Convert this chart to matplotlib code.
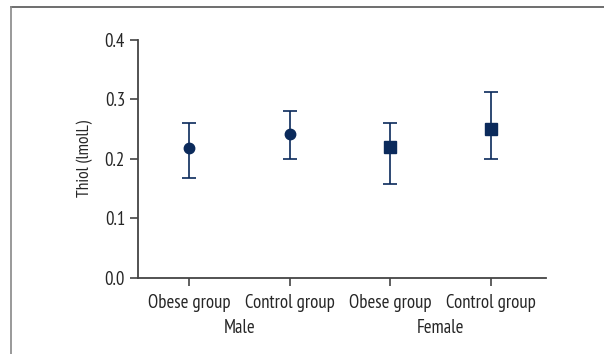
import matplotlib
matplotlib.use("Agg")
import matplotlib.pyplot as plt
from matplotlib.lines import Line2D
import numpy as np

plt.rcParams['font.family'] = ['PT Sans Narrow', 'DejaVu Sans']

groups = ["Obese group", "Control group", "Obese group", "Control group"]
sexes = ["Male", "Female"]
means = [0.218, 0.242, 0.220, 0.250]
upper = [0.261, 0.281, 0.260, 0.312]
lower = [0.168, 0.199, 0.158, 0.199]
markers = ["o", "o", "s", "s"]
yticks = [0.0, 0.1, 0.2, 0.3, 0.4]

navy = "#0b2a5b"
axis_col = "#444444"
text_col = "#262626"

fig = plt.figure(figsize=(6.04, 3.54), dpi=100)
ax = fig.add_axes([137.5 / 604, 1 - 277.7 / 354, (545.6 - 137.5) / 604, (277.7 - 40) / 354])

x = np.arange(len(means))
for i in range(len(means)):
    ax.errorbar(x[i], means[i],
                yerr=[[means[i] - lower[i]], [upper[i] - means[i]]],
                fmt=markers[i], color=navy, ms=7.5 if markers[i] == "o" else 8,
                elinewidth=1.2, capsize=5, capthick=1.2)

ax.set_xlim(-0.51, 3.54)
ax.set_ylim(0, 0.4)
ax.set_yticks(yticks)
ax.set_yticklabels(["%.1f" % v for v in yticks])
ax.set_xticks(x)
ax.set_xticklabels(groups)
ax.set_ylabel("Thiol (lmolL)", fontsize=12.5, color=text_col, labelpad=8)

for s in ["top", "right"]:
    ax.spines[s].set_visible(False)
for s in ["left", "bottom"]:
    ax.spines[s].set_color(axis_col)
    ax.spines[s].set_linewidth(1.3)
ax.tick_params(axis="both", colors=axis_col, labelcolor=text_col, labelsize=13.5,
               length=6, width=1.2)
ax.tick_params(axis="x", pad=6)
ax.tick_params(axis="y", pad=3)

# sex labels under each pair
ax.text(0.5, -0.172, sexes[0], transform=ax.get_xaxis_transform(),
        ha="center", va="top", fontsize=13.5, color=text_col)
ax.text(2.5, -0.172, sexes[1], transform=ax.get_xaxis_transform(),
        ha="center", va="top", fontsize=13.5, color=text_col)

# outer frame
fig.add_artist(Line2D([11 / 604, 1], [1 - 7 / 354, 1 - 7 / 354], transform=fig.transFigure,
                      color="#555555", lw=1.2))
fig.add_artist(Line2D([11 / 604, 11 / 604], [0, 1 - 7 / 354], transform=fig.transFigure,
                      color="#888888", lw=1.2))

fig.savefig("out.png", dpi=100)
